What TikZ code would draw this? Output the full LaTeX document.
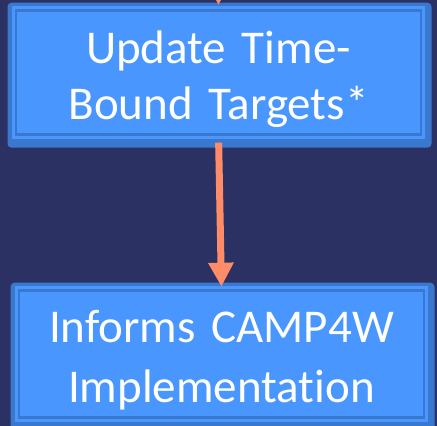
\documentclass[tikz,border=0pt]{standalone}
\usepackage{fontspec}
\setmainfont{Carlito}[Ligatures=NoCommon]
\usepackage{xcolor}
\usetikzlibrary{positioning,arrows.meta,backgrounds}
\definecolor{navy}{HTML}{2B3163}
\definecolor{bandblue}{HTML}{3A78CE}
\definecolor{boxblue}{HTML}{4A96FF}
\definecolor{salmon}{HTML}{FF8C69}
\tikzset{stepbox/.style={rectangle,fill=boxblue,draw=bandblue,line width=2.5pt,
  outer sep=0pt,inner sep=0pt,minimum width=405pt,text width=390pt,
  align=center,text=white,text height=45pt,font=\fontsize{47}{#1}\selectfont},
  flow/.style={salmon,line width=7pt,-{Triangle[width=24pt,length=24pt]}}}

\begin{document}
\begin{tikzpicture}[x=1pt,y=1pt]
\useasboundingbox (0,0) rectangle (437,426);
\node[stepbox=56pt,minimum height=124pt] (update) at (218.5,353.3)
{Update Time-\\Bound Targets*};
\node[stepbox=60pt,minimum height=127pt,below=156pt of update,xshift=3pt]
(informs) {Informs CAMP4W\\Implementation};
\coordinate[above=60pt of update] (prev);
\begin{scope}[on background layer]
\fill[navy] (0,0) rectangle (437,426);
\foreach \n in {update,informs}{
\fill[bandblue,rounded corners=4pt] ([shift={(-8.5pt,8pt)}]\n.north west)
rectangle ([shift={(10.5pt,-13pt)}]\n.south east);
\fill[boxblue] ([shift={(-4.3pt,4.3pt)}]\n.north west)
rectangle ([shift={(4.3pt,-4.3pt)}]\n.south east);
}
\end{scope}
\draw[flow,shorten >=5.7pt] (prev) -- (update.north);
\draw[flow,shorten <=8pt,shorten >=4pt] (update.south) -- (informs.north);
\end{tikzpicture}
\end{document}
